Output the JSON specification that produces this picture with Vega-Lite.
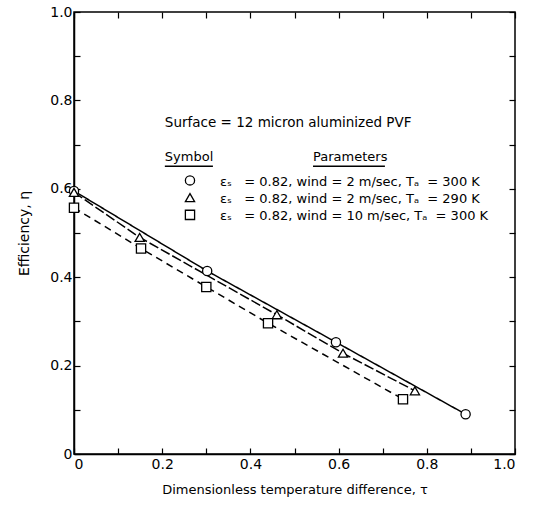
{
  "$schema": "https://vega.github.io/schema/vega-lite/v6.json",
  "width": 441,
  "height": 442,
  "autosize": {"type": "none"},
  "padding": {"left": 74, "top": 12, "right": 23, "bottom": 55},
  "background": "white",
  "config": {
    "font": "DejaVu Sans",
    "view": {"stroke": "black", "strokeWidth": 1.5},
    "axis": {
      "grid": false,
      "domainColor": "black",
      "domainWidth": 1.5,
      "tickColor": "black",
      "tickSize": -6,
      "tickWidth": 1.2,
      "labelColor": "black",
      "labelFontSize": 14,
      "labelFont": "DejaVu Sans",
      "titleFont": "DejaVu Sans",
      "titleFontSize": 13,
      "titleFontWeight": "normal",
      "titleColor": "black"
    }
  },
  "datasets": {
    "obs": [
      {"tau": 0.0, "eta": 0.595, "series": "wind2_300K"},
      {"tau": 0.302, "eta": 0.414, "series": "wind2_300K"},
      {"tau": 0.594, "eta": 0.253, "series": "wind2_300K"},
      {"tau": 0.888, "eta": 0.09, "series": "wind2_300K"},
      {"tau": 0.0, "eta": 0.592, "series": "wind2_290K"},
      {"tau": 0.149, "eta": 0.49, "series": "wind2_290K"},
      {"tau": 0.46, "eta": 0.315, "series": "wind2_290K"},
      {"tau": 0.61, "eta": 0.228, "series": "wind2_290K"},
      {"tau": 0.773, "eta": 0.143, "series": "wind2_290K"},
      {"tau": 0.0, "eta": 0.557, "series": "wind10_300K"},
      {"tau": 0.152, "eta": 0.465, "series": "wind10_300K"},
      {"tau": 0.3, "eta": 0.378, "series": "wind10_300K"},
      {"tau": 0.44, "eta": 0.296, "series": "wind10_300K"},
      {"tau": 0.746, "eta": 0.124, "series": "wind10_300K"}
    ]
  },
  "resolve": {
    "axis": {"x": "independent", "y": "independent"},
    "legend": {"shape": "independent", "strokeDash": "independent"}
  },
  "layer": [
    {
      "data": {"name": "obs"},
      "mark": {"type": "line", "color": "black", "strokeWidth": 1.5},
      "encoding": {
        "x": {
          "field": "tau", "type": "quantitative",
          "scale": {"domain": [0, 1], "nice": false, "zero": false},
          "axis": {
            "orient": "bottom",
            "values": [0, 0.1, 0.2, 0.3, 0.4, 0.5, 0.6, 0.7, 0.8, 0.9, 1.0],
            "labelExpr": "(round(datum.value*10) % 2 == 0) ? (datum.value == 0 ? '0' : format(datum.value, '.1f')) : ''",
            "labelPadding": 9,
            "title": "Dimensionless temperature difference, τ",
            "titlePadding": 12
          }
        },
        "y": {
          "field": "eta", "type": "quantitative",
          "scale": {"domain": [0, 1], "nice": false, "zero": false},
          "axis": {
            "orient": "left",
            "values": [0, 0.1, 0.2, 0.3, 0.4, 0.5, 0.6, 0.7, 0.8, 0.9, 1.0],
            "labelExpr": "(round(datum.value*10) % 2 == 0) ? (datum.value == 0 ? '0' : format(datum.value, '.1f')) : ''",
            "labelPadding": 8,
            "title": "Efficiency, η",
            "titleFontSize": 14,
            "titlePadding": 18
          }
        },
        "strokeDash": {
          "field": "series", "type": "nominal",
          "scale": {"domain": ["wind2_300K", "wind2_290K", "wind10_300K"], "range": [[1, 0], [10, 3], [7, 5]]},
          "legend": null
        }
      }
    },
    {
      "data": {"name": "obs"},
      "mark": {"type": "point", "filled": true, "fill": "white", "stroke": "black", "strokeWidth": 1.3, "size": 85, "opacity": 1},
      "encoding": {
        "x": {
          "field": "tau", "type": "quantitative",
          "axis": {
            "orient": "top", "labels": false, "domain": false, "title": null,
            "values": [0, 0.1, 0.2, 0.3, 0.4, 0.5, 0.6, 0.7, 0.8, 0.9, 1.0]
          }
        },
        "y": {
          "field": "eta", "type": "quantitative",
          "axis": {
            "orient": "right", "labels": false, "domain": false, "title": null,
            "values": [0, 0.1, 0.2, 0.3, 0.4, 0.5, 0.6, 0.7, 0.8, 0.9, 1.0]
          }
        },
        "shape": {
          "field": "series", "type": "nominal",
          "scale": {"domain": ["wind2_300K", "wind2_290K", "wind10_300K"], "range": ["circle", "triangle-up", "square"]},
          "legend": {
            "orient": "none",
            "legendX": 111,
            "legendY": 163,
            "title": null,
            "padding": 0,
            "labelFontSize": 13,
            "labelFont": "DejaVu Sans",
            "labelColor": "black",
            "labelLimit": 400,
            "labelOffset": 22,
            "symbolSize": 85,
            "symbolOpacity": 0,
            "rowPadding": 3,
            "labelExpr": "datum.value == 'wind2_300K' ? 'εₛ\u00a0\u00a0\u00a0= 0.82, wind = 2 m/sec, Tₐ\u00a0\u00a0= 300 K' : datum.value == 'wind2_290K' ? 'εₛ\u00a0\u00a0\u00a0= 0.82, wind = 2 m/sec, Tₐ\u00a0\u00a0= 290 K' : 'εₛ\u00a0\u00a0\u00a0= 0.82, wind = 10 m/sec, Tₐ\u00a0\u00a0= 300 K'",
            "encode": {
              "symbols": {
                "update": {
                  "opacity": {"value": 0},
                  "fillOpacity": {"value": 0},
                  "strokeOpacity": {"value": 0}
                }
              }
            }
          }
        }
      }
    },
    {
      "data": {"values": [{}]},
      "mark": {"type": "point", "shape": "circle", "filled": true, "fill": "white", "stroke": "black", "strokeWidth": 1.3, "size": 85, "opacity": 1},
      "encoding": {
        "x": {"datum": 0.263, "type": "quantitative", "axis": null},
        "y": {"datum": 0.619, "type": "quantitative", "axis": null}
      }
    },
    {
      "data": {"values": [{}]},
      "mark": {"type": "point", "shape": "triangle-up", "filled": true, "fill": "white", "stroke": "black", "strokeWidth": 1.3, "size": 85, "opacity": 1},
      "encoding": {
        "x": {"datum": 0.263, "type": "quantitative", "axis": null},
        "y": {"datum": 0.58, "type": "quantitative", "axis": null}
      }
    },
    {
      "data": {"values": [{}]},
      "mark": {"type": "point", "shape": "square", "filled": true, "fill": "white", "stroke": "black", "strokeWidth": 1.3, "size": 85, "opacity": 1},
      "encoding": {
        "x": {"datum": 0.263, "type": "quantitative", "axis": null},
        "y": {"datum": 0.541, "type": "quantitative", "axis": null}
      }
    },
    {
      "data": {"values": [{}]},
      "mark": {"type": "text", "text": "Surface = 12 micron aluminized PVF", "align": "left", "baseline": "middle", "fontSize": 13.5, "font": "DejaVu Sans", "color": "black"},
      "encoding": {
        "x": {"datum": 0.206, "type": "quantitative", "axis": null},
        "y": {"datum": 0.749, "type": "quantitative", "axis": null}
      }
    },
    {
      "data": {"values": [{}]},
      "mark": {"type": "text", "text": "Symbol", "align": "left", "baseline": "middle", "fontSize": 13, "font": "DejaVu Sans", "color": "black"},
      "encoding": {
        "x": {"datum": 0.206, "type": "quantitative", "axis": null},
        "y": {"datum": 0.672, "type": "quantitative", "axis": null}
      }
    },
    {
      "data": {"values": [{}]},
      "mark": {"type": "text", "text": "Parameters", "align": "left", "baseline": "middle", "fontSize": 13, "font": "DejaVu Sans", "color": "black"},
      "encoding": {
        "x": {"datum": 0.542, "type": "quantitative", "axis": null},
        "y": {"datum": 0.672, "type": "quantitative", "axis": null}
      }
    },
    {
      "data": {"values": [{}]},
      "mark": {"type": "rule", "color": "black", "strokeWidth": 1.3},
      "encoding": {
        "x": {"datum": 0.206, "type": "quantitative", "axis": null},
        "x2": {"datum": 0.315},
        "y": {"datum": 0.651, "type": "quantitative", "axis": null}
      }
    },
    {
      "data": {"values": [{}]},
      "mark": {"type": "rule", "color": "black", "strokeWidth": 1.3},
      "encoding": {
        "x": {"datum": 0.542, "type": "quantitative", "axis": null},
        "x2": {"datum": 0.705},
        "y": {"datum": 0.651, "type": "quantitative", "axis": null}
      }
    }
  ]
}
